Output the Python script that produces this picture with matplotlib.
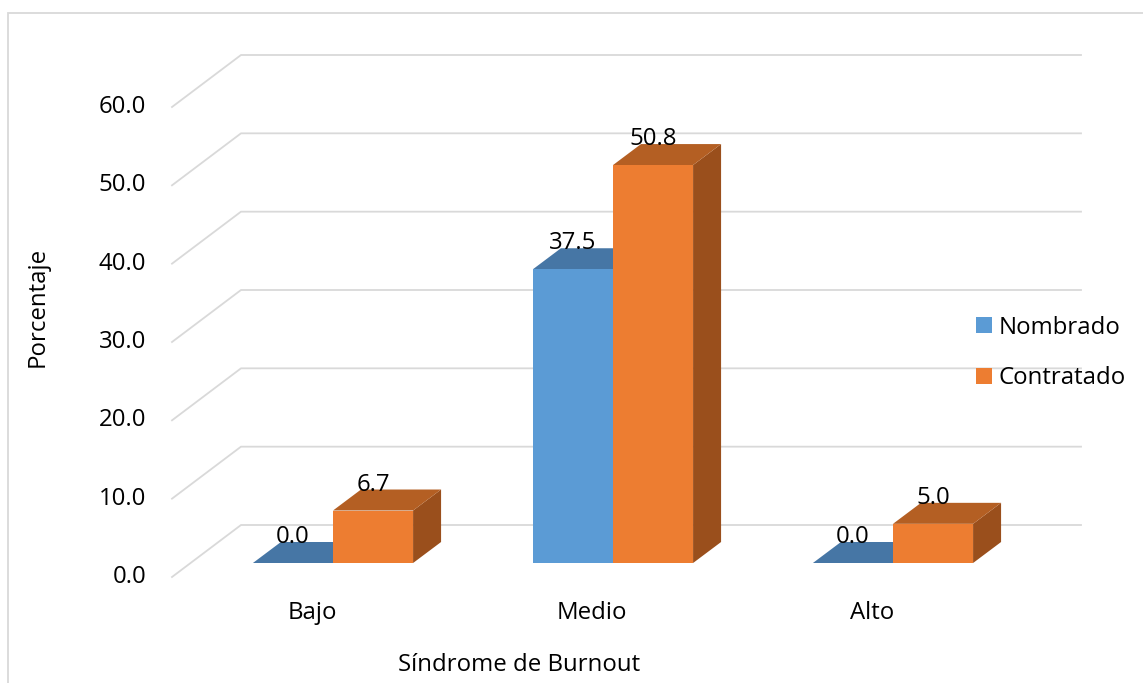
import numpy as np
import matplotlib
matplotlib.use('Agg')
import matplotlib.pyplot as plt
from matplotlib.patches import Polygon, Rectangle, Patch
from matplotlib.lines import Line2D
from matplotlib.transforms import IdentityTransform, offset_copy

categorias = ['Bajo', 'Medio', 'Alto']
nombrado = [0.0, 37.5, 0.0]
contratado = [6.7, 50.8, 5.0]
ticks = [0, 10, 20, 30, 40, 50, 60]

plt.rcParams['font.family'] = ['Open Sans', 'DejaVu Sans']
FS = 17.3
GRID = '#D9D9D9'

# pseudo-3D offsets in pixels (wall depth, bar front position, bar depth)
WX, WY = 69, 52
FX, FY = 21, 14
DX, DY = 28, 21

fig = plt.figure(figsize=(11.43, 6.83), dpi=100)
ax = fig.add_axes([172 / 1143, 106 / 683, 840 / 1143, 470 / 683])
ax.set_xlim(-0.5, 2.5)
ax.set_ylim(0, 60)
ax.axis('off')

px = IdentityTransform()

# floor/back wall gridlines
for t in ticks:
    x0, y0 = ax.transData.transform((-0.5, t))
    x1, _ = ax.transData.transform((2.5, t))
    ax.add_line(Line2D([x0, x0 + WX, x1 + WX], [y0, y0 + WY, y0 + WY],
                       transform=px, color=GRID, lw=1.3, clip_on=False, zorder=1))
    ax.text(-0.5, t, f'{t:.1f}', transform=offset_copy(ax.transData, fig, x=-26, y=0, units='dots'),
            ha='right', va='center', fontsize=FS)

w = 0.286
front_tr = offset_copy(ax.transData, fig, x=FX, y=FY, units='dots')
label_tr = offset_copy(ax.transData, fig, x=FX, y=FY + DY - 1, units='dots')
series = [
    (nombrado, -w / 2, '#5B9BD5', '#4676A5', '#3E6894'),
    (contratado, w / 2, '#ED7D31', '#B45F23', '#9A4F1C'),
]
for k, (vals, off, c_front, c_top, c_side) in enumerate(series):
    z = 3 + k
    xs = np.arange(len(categorias)) + off
    bars = ax.bar(xs, vals, w, color=c_front, transform=front_tr, zorder=z + 0.2,
                  clip_on=False, linewidth=0)
    for b, v in zip(bars, vals):
        (xl, yb), (xr, yt) = front_tr.transform([(b.get_x(), 0), (b.get_x() + w, v)])
        top = Polygon([(xl, yt), (xr, yt), (xr + DX, yt + DY), (xl + DX, yt + DY)],
                      closed=True, transform=px, fc=c_top, ec='none', clip_on=False, zorder=z)
        side = Polygon([(xr, yb), (xr, yt), (xr + DX, yt + DY), (xr + DX, yb + DY)],
                       closed=True, transform=px, fc=c_side, ec='none', clip_on=False, zorder=z)
        ax.add_patch(side)
        ax.add_patch(top)
        ax.text(b.get_x() + w / 2, v, f'{v:.1f}', transform=label_tr, ha='center', va='baseline',
                fontsize=FS, zorder=10)

for i, c in enumerate(categorias):
    ax.text(i, 0, c, transform=offset_copy(ax.transData, fig, x=0, y=-36, units='dots'),
            ha='center', va='center', fontsize=FS)

fig.text(519 / 1143, 1 - 665 / 683, 'Síndrome de Burnout', ha='center', va='center', fontsize=FS)
fig.text(38 / 1143, 1 - 307 / 683, 'Porcentaje', ha='center', va='center', rotation=90, fontsize=FS)

fig.legend(handles=[Patch(fc='#5B9BD5'), Patch(fc='#ED7D31')], labels=['Nombrado', 'Contratado'],
           loc='center left', bbox_to_anchor=(976 / 1143, 1 - 353 / 683), frameon=False,
           handlelength=0.65, handleheight=0.65, handletextpad=0.3, labelspacing=1.1,
           fontsize=FS, borderpad=0, borderaxespad=0)

# chart area border (open on the right and bottom)
fig.add_artist(Rectangle((8 / 1143, -0.1), 1.2, 1.1 - 13 / 683, transform=fig.transFigure,
                         fill=False, ec=GRID, lw=1.3))

fig.savefig('out.png', dpi=100)
